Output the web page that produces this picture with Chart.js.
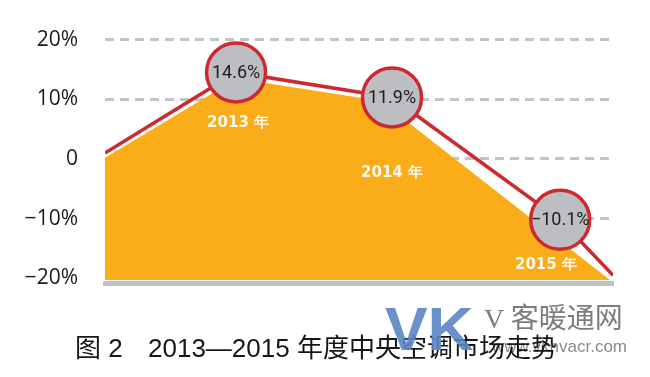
<!DOCTYPE html>
<html>
<head>
<meta charset="utf-8">
<script src="https://cdn.jsdelivr.net/npm/chart.js@4.4.1/dist/chart.umd.min.js"></script>
<style>
  html, body { margin: 0; padding: 0; background: #fff; }
  #wrap { position: relative; width: 650px; height: 377px; overflow: hidden; }
  #chart { position: absolute; left: 0; top: 0; }
  .cap { position: absolute; top: 335px; font: 26px/1 "Noto Sans CJK SC", sans-serif; color: #161616; white-space: pre; }
  .cap.num { font-family: "Liberation Sans", "Noto Sans CJK SC", sans-serif; }
  .wm-vk { position: absolute; left: 385px; top: 298px; font: bold 62px/1 "Liberation Sans", sans-serif; color: #5b86c6; opacity: 0.9; transform: scaleX(1.03); transform-origin: left top; }
  .wm-name { position: absolute; left: 484px; top: 305px; font: 28px/1 "Liberation Serif", "Noto Sans CJK SC", serif; color: #7d7d7d; white-space: pre; }
  .wm-url { position: absolute; right: 23px; top: 338px; font: 17px/1 "Liberation Sans", sans-serif; color: #8a8a8a; }
</style>
</head>
<body>
<div id="wrap">
  <canvas id="chart" width="650" height="377"></canvas>
  <div class="wm-url">www.vkhvacr.com</div>
  <div class="cap num" style="left:75px">图 2</div>
  <div class="cap num" style="left:148px">2013—2015 年度中央空调市场走势</div>
  <div class="wm-vk">VK</div>
  <div class="wm-name">V 客暖通网</div>
</div>
<script>
// red trend line (x = position along the axis, 0..100)
const lineX = [0, 25.8, 56.5, 89.6, 100];
const lineValues = [1.0, 14.5, 10.3, -10.2, -19.5];
const bubbleLabels = ['', '14.6%', '11.9%', '−10.1%', ''];

// orange area below the line
const areaX = [0, 26.0, 54.3, 99.4];
const areaValues = [0.2, 13.5, 9.7, -20.3];

// year labels inside the area
const yearLabels = ['2013 年', '2014 年', '2015 年'];
const yearX = [26.2, 56.5, 86.8];
const yearY = [6.0, -2.3, -17.8];

const yTicks = [20, 10, 0, -10, -20];

const RED = '#cd2a2f';
const ORANGE = '#faad19';
const BUBBLE = '#bdbec2';

const labelPlugin = {
  id: 'pointLabels',
  afterDatasetsDraw(chart) {
    const { ctx, scales: { x, y } } = chart;
    const meta = chart.getDatasetMeta(0);
    ctx.save();
    ctx.textAlign = 'center';
    ctx.textBaseline = 'middle';

    ctx.font = 'bold 15px "DejaVu Sans"';
    ctx.fillStyle = '#fffaf0';
    yearLabels.forEach((t, i) => {
      ctx.fillText(t, x.getPixelForValue(yearX[i]), y.getPixelForValue(yearY[i]));
    });

    ctx.font = '18px Roboto';
    ctx.fillStyle = '#1e1a1b';
    bubbleLabels.forEach((t, i) => {
      if (!t) return;
      const p = meta.data[i];
      ctx.fillText(t, p.x, p.y + 1);
    });
    ctx.restore();
  }
};

new Chart(document.getElementById('chart'), {
  type: 'line',
  data: {
    datasets: [
      {
        data: lineX.map((x, i) => ({ x, y: lineValues[i] })),
        borderColor: RED,
        borderWidth: 3.5,
        tension: 0,
        fill: false,
        pointRadius: bubbleLabels.map(l => (l ? 29.5 : 0)),
        pointBackgroundColor: BUBBLE,
        pointBorderColor: RED,
        pointBorderWidth: 3.5,
      },
      {
        data: areaX.map((x, i) => ({ x, y: areaValues[i] })),
        borderWidth: 0,
        pointRadius: 0,
        tension: 0,
        backgroundColor: ORANGE,
        fill: { value: -20.3 },
      },
    ],
  },
  options: {
    responsive: false,
    animation: false,
    layout: { padding: { top: 38, right: 37, bottom: 94, left: 0 } },
    plugins: {
      legend: { display: false },
      tooltip: { enabled: false },
    },
    scales: {
      x: {
        type: 'linear',
        min: 0,
        max: 100,
        grid: { display: false },
        ticks: { display: false },
        border: { display: true, color: '#bfc1c1', width: 5 },
        afterFit: s => { s.height = 0; },
      },
      y: {
        min: -20.8,
        max: 20,
        afterBuildTicks: s => { s.ticks = yTicks.map(v => ({ value: v })); },
        afterFit: s => { s.width = 105; },
        grid: {
          color: c => (c.tick && c.tick.value === -20 ? 'rgba(0,0,0,0)' : '#c4c4c4'),
          lineWidth: 3,
          drawTicks: false,
        },
        border: { display: false, dash: [9, 6] },
        ticks: {
          padding: 27,
          color: '#1e1a1b',
          font: { family: 'Open Sans', size: 21, weight: '400' },
          callback: v => (v === 0 ? '0' : (v < 0 ? '−' : '') + Math.abs(v) + '%'),
        },
      },
    },
  },
  plugins: [labelPlugin],
});
</script>
</body>
</html>
